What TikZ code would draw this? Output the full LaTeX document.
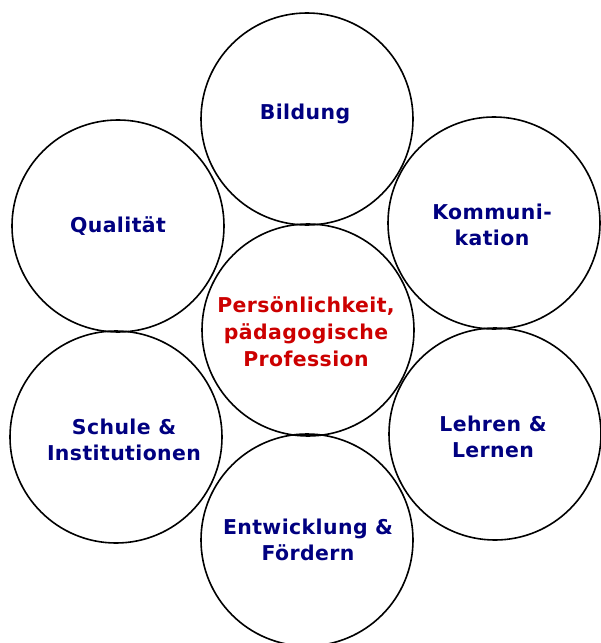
\documentclass[tikz,border=0pt]{standalone}
\usepackage{fontspec}
\setmainfont{DejaVu Sans}[LetterSpace=2]
\definecolor{navyblue}{HTML}{000080}
\definecolor{darkred}{HTML}{CC0000}
\begin{document}
\begin{tikzpicture}[x=1bp,y=-1bp,
  ring/.style={draw=black, line width=1.6bp, circle, minimum size=212bp, inner sep=0pt},
  lbl/.style={align=center, text=navyblue, font=\bfseries\fontsize{20.5}{26}\selectfont},
  core/.style={align=center, text=darkred, font=\bfseries\fontsize{20.5}{27}\selectfont}]
\useasboundingbox (0,0) rectangle (601,643);
\node[ring] (bildung) at (307,119) {};
\node[ring] (qual) at (118,226) {};
\node[ring] (komm) at (494,223) {};
\node[ring] (center) at (308,330) {};
\node[ring] (schule) at (116,437) {};
\node[ring] (lehren) at (495,434) {};
\node[ring] (entw) at (307,540) {};
\node[lbl] (tb) at (305,114) {Bildung};
\node[lbl] (tq) at (118,226) {Qualität};
\node[lbl] (tk) at (492,225) {Kommuni-\\kation};
\node[core] (tc) at (306,332) {Persönlichkeit,\\pädagogische\\Profession};
\node[lbl] (ts) at (124,440) {Schule \&\\Institutionen};
\node[lbl] (tl) at (493,437) {Lehren \&\\Lernen};
\node[lbl] (te) at (308,540) {Entwicklung \&\\Fördern};
\end{tikzpicture}
\end{document}
